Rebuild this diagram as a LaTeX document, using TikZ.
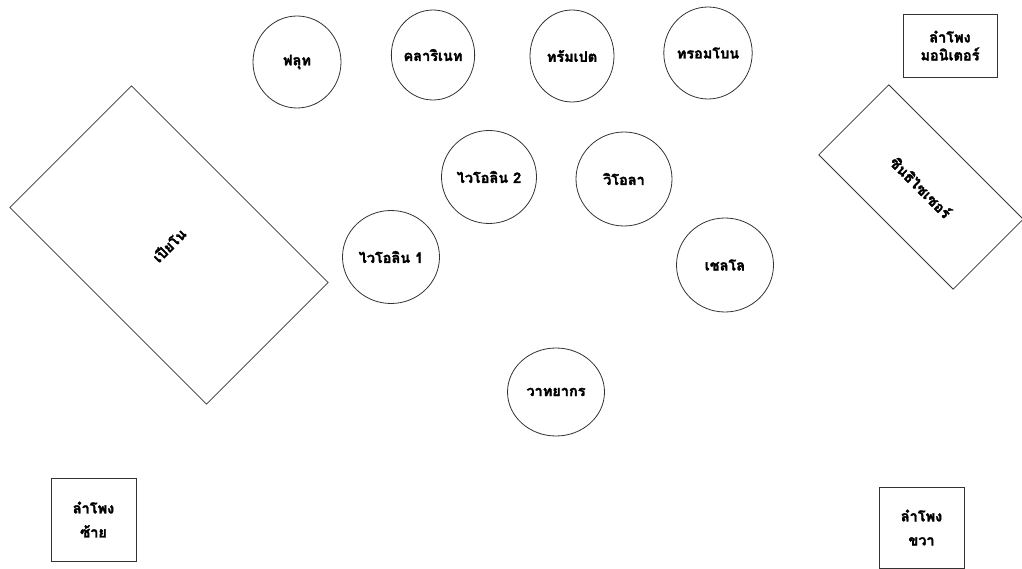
\documentclass[tikz,border=0pt]{standalone}
\usepackage{fontspec}
\newfontfamily\thaifont[Script=Thai,BoldFeatures={FakeBold=2}]{Loma}
\usetikzlibrary{shapes.geometric}
\begin{document}
\begin{tikzpicture}[x=1pt,y=-1pt,
  lbl/.style={font=\thaifont\bfseries\fontsize{14.5}{18}\selectfont, text=black},
  inst/.style={lbl, ellipse, draw=black!80, line width=0.8pt, inner sep=0pt},
  slab/.style={lbl, rectangle, draw=black!80, line width=0.8pt, inner sep=0pt},
  spk/.style={lbl, rectangle, draw=black!80, line width=0.8pt, inner sep=0pt, align=center}]
\useasboundingbox (0,0) rectangle (1022,569);
% top row
\node[inst, minimum width=88pt, minimum height=92pt] (flute) at (297,62) {ฟลุท};
\node[inst, minimum width=82pt, minimum height=90pt] (clar) at (433,55) {คลาริเนท};
\node[inst, minimum width=84pt, minimum height=92pt] (trp) at (572,56) {ทรัมเปต};
\node[inst, minimum width=84pt, minimum height=92pt] (trb) at (708,53) {ทรอมโบน};
% strings
\node[inst, minimum width=95pt, minimum height=93pt] (vn2) at (489,177) {ไวโอลิน 2};
\node[inst, minimum width=96pt, minimum height=94pt] (vla) at (624,179) {วิโอลา};
\node[inst, minimum width=97pt, minimum height=93pt] (vn1) at (391,257) {ไวโอลิน 1};
\node[inst, minimum width=97pt, minimum height=94pt] (vc) at (725,265) {เชลโล};
\node[inst, minimum width=97pt, minimum height=88pt] (cond) at (556,392) {วาทยากร};
% keyboards
\node[slab, rotate=45, minimum width=172pt, minimum height=278pt] (piano) at (169,245) {เปียโน};
\node[slab, rotate=-45, minimum width=190pt, minimum height=99pt] (synth) at (921,187) {ซินธิไซเซอร์};
% speakers
\node[spk, minimum width=94pt, minimum height=63pt] (mon) at (950,45.5) {ลำโพง\\[0pt]มอนิเตอร์};
\node[spk, minimum width=85pt, minimum height=83pt] (spl) at (93.5,519.5) {ลำโพง\\[6pt]ซ้าย};
\node[spk, minimum width=85pt, minimum height=81pt] (spr) at (921.5,527.5) {ลำโพง\\[6pt]ขวา};
\end{tikzpicture}
\end{document}
